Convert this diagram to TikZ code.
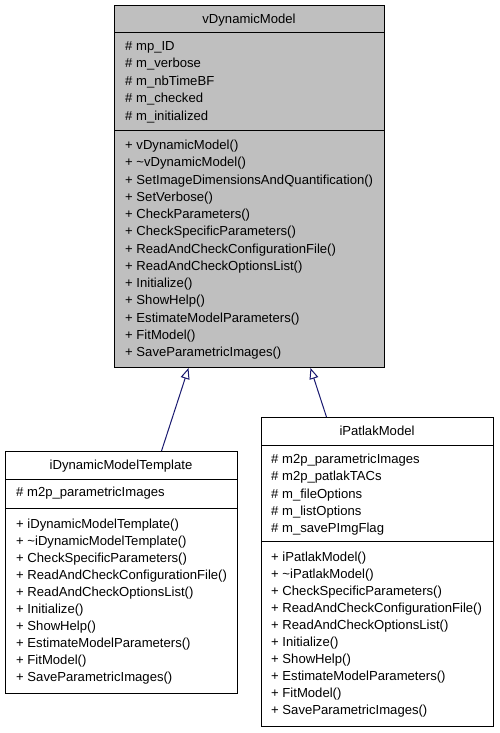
\documentclass[tikz,border=0pt]{standalone}
\usepackage{fontspec}
\setmainfont{Liberation Sans}
\usetikzlibrary{arrows.meta}
\definecolor{edgeblue}{RGB}{25,25,112}
\definecolor{boxgray}{RGB}{191,191,191}
\begin{document}
\begin{tikzpicture}[x=1pt,y=-1pt,
  every node/.style={inner sep=0pt, font=\fontsize{13.1}{16}\selectfont},
  classbox/.style={draw=black, line width=1pt, anchor=north west},
  sepline/.style={draw=black, line width=1pt},
  member/.style={anchor=base west},
  classtitle/.style={anchor=base},
  inh/.style={draw=edgeblue, line width=1pt, -{Triangle[open, length=11pt, width=9pt]}}]
\path[fill=white] (0,0) rectangle (499,733);
% base class
\node[classbox, fill=boxgray, minimum width=270pt, minimum height=362pt] (base) at (114,5) {};
\draw[sepline] (114,33) -- (384,33);
\draw[sepline] (114,131) -- (384,131);
\node[classtitle] (basetitle) at (249,23.5) {vDynamicModel};
\foreach \t [count=\i] in {{\# mp\_ID},{\# m\_verbose},{\# m\_nbTimeBF},{\# m\_checked},{\# m\_initialized}}
  \node[member] (ba\i) at (125,{50.5+17.45*(\i-1)}) {\t};
\foreach \t [count=\i] in {{+ vDynamicModel()},{+ \textasciitilde vDynamicModel()},{+ SetImageDimensionsAndQuantification()},{+ SetVerbose()},{+ CheckParameters()},{+ CheckSpecificParameters()},{+ ReadAndCheckConfigurationFile()},{+ ReadAndCheckOptionsList()},{+ Initialize()},{+ ShowHelp()},{+ EstimateModelParameters()},{+ FitModel()},{+ SaveParametricImages()}}
  \node[member] (bm\i) at (125,{149.5+17.25*(\i-1)}) {\t};
% left derived class
\node[classbox, fill=white, minimum width=232pt, minimum height=242pt] (lbox) at (5,451) {};
\draw[sepline] (5,479) -- (237,479);
\draw[sepline] (5,508) -- (237,508);
\node[classtitle] (ltitle) at (121,469.5) {iDynamicModelTemplate};
\node[member] (la1) at (16,496.5) {\# m2p\_parametricImages};
\foreach \t [count=\i] in {{+ iDynamicModelTemplate()},{+ \textasciitilde iDynamicModelTemplate()},{+ CheckSpecificParameters()},{+ ReadAndCheckConfigurationFile()},{+ ReadAndCheckOptionsList()},{+ Initialize()},{+ ShowHelp()},{+ EstimateModelParameters()},{+ FitModel()},{+ SaveParametricImages()}}
  \node[member] (lm\i) at (16,{528.5+16.95*(\i-1)}) {\t};
% right derived class
\node[classbox, fill=white, minimum width=232pt, minimum height=309pt] (rbox) at (261,417) {};
\draw[sepline] (261,445) -- (493,445);
\draw[sepline] (261,541) -- (493,541);
\node[classtitle] (rtitle) at (377,435.5) {iPatlakModel};
\foreach \t [count=\i] in {{\# m2p\_parametricImages},{\# m2p\_patlakTACs},{\# m\_fileOptions},{\# m\_listOptions},{\# m\_savePImgFlag}}
  \node[member] (ra\i) at (271,{463.5+17.25*(\i-1)}) {\t};
\foreach \t [count=\i] in {{+ iPatlakModel()},{+ \textasciitilde iPatlakModel()},{+ CheckSpecificParameters()},{+ ReadAndCheckConfigurationFile()},{+ ReadAndCheckOptionsList()},{+ Initialize()},{+ ShowHelp()},{+ EstimateModelParameters()},{+ FitModel()},{+ SaveParametricImages()}}
  \node[member] (rm\i) at (271,{561.5+17*(\i-1)}) {\t};
% inheritance
\draw[inh] ([xshift=40pt]lbox.north) -- ([xshift=-61pt]base.south);
\draw[inh] ([xshift=-51pt]rbox.north) -- ([xshift=61pt]base.south);
\end{tikzpicture}
\end{document}
